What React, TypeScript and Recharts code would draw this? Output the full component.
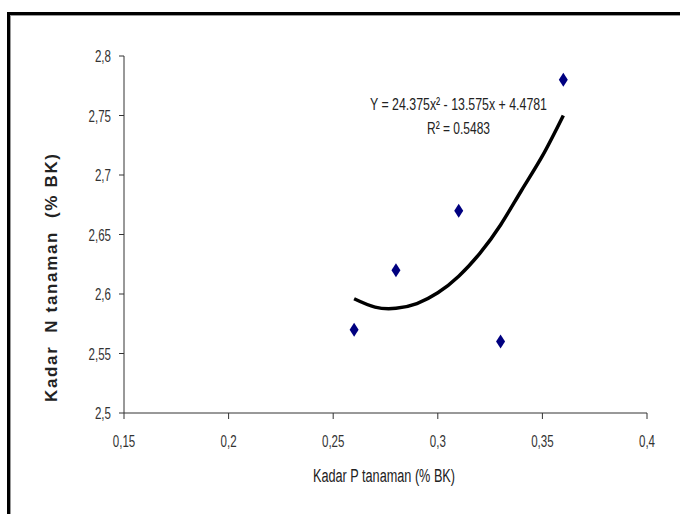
import { ComposedChart, Scatter, Line, XAxis, YAxis } from 'recharts'

// observed points: Kadar P (x) vs Kadar N (y)
const kadarP = [0.26, 0.28, 0.31, 0.33, 0.36]
const kadarN = [2.57, 2.62, 2.67, 2.56, 2.78]

// polynomial trend curve
const trendP = [0.26, 0.27, 0.28, 0.29, 0.30, 0.31, 0.32, 0.33, 0.34, 0.35, 0.36]
const trendN = [2.596, 2.589, 2.588, 2.592, 2.601, 2.615, 2.634, 2.658, 2.687, 2.716, 2.750]

const xTicks = [0.15, 0.2, 0.25, 0.3, 0.35, 0.4]
const yTicks = [2.5, 2.55, 2.6, 2.65, 2.7, 2.75, 2.8]

const points = kadarP.map((x, i) => ({ x, y: kadarN[i] }))
const trend = trendP.map((x, i) => ({ x, y: trendN[i] }))

const FONT = 'Arial, "Liberation Sans", sans-serif'
const comma = (v: number) => String(v).replace('.', ',')

// excel-ish condensed labels: squeeze the glyphs horizontally
const XTick = (props: any) => {
  const { x, y, payload } = props
  return (
    <text transform={`translate(${x},${y + 20}) scale(0.68,1)`} textAnchor="middle"
      fontSize={17} fill="#333" fontFamily={FONT}>
      {comma(payload.value)}
    </text>
  )
}

const YTick = (props: any) => {
  const { x, y, payload } = props
  return (
    <text transform={`translate(${x},${y + 6}) scale(0.68,1)`} textAnchor="end"
      fontSize={17} fill="#333" fontFamily={FONT}>
      {comma(payload.value)}
    </text>
  )
}

const Diamond = (props: any) => {
  const { cx, cy } = props
  if (cx == null || cy == null) return null
  return (
    <polygon
      points={`${cx},${cy - 7} ${cx + 4.5},${cy} ${cx},${cy + 7} ${cx - 4.5},${cy}`}
      fill="#000080"
    />
  )
}

export default function App() {
  document.body.style.margin = '0'

  return (
    <div style={{ position: 'relative', width: 680, height: 514, overflow: 'hidden', background: '#fff' }}>
      <div
        style={{
          position: 'absolute', left: 7, top: 12, width: 700, height: 600,
          border: '3px solid #000', boxShadow: 'inset 1px 1px 0 #999',
        }}
      />
      <div style={{ position: 'absolute', left: 0, top: 0 }}>
        <ComposedChart width={680} height={514} margin={{ top: 56, right: 33, bottom: 71, left: 64 }}>
          <XAxis
            type="number" dataKey="x" domain={[0.15, 0.4]} ticks={xTicks}
            tick={<XTick />} tickSize={6} tickMargin={8}
            stroke="#333" height={30} allowDataOverflow
          />
          <YAxis
            type="number" dataKey="y" domain={[2.5, 2.8]} ticks={yTicks}
            tick={<YTick />} tickSize={5} tickMargin={8}
            stroke="#333" width={60} allowDataOverflow
          />
          <Line
            data={trend} dataKey="y" type="natural" stroke="#000" strokeWidth={3.5}
            dot={false} activeDot={false} isAnimationActive={false}
          />
          <Scatter data={points} dataKey="y" shape={<Diamond />} isAnimationActive={false} />
        </ComposedChart>
      </div>
      <svg width={680} height={514} style={{ position: 'absolute', left: 0, top: 0, pointerEvents: 'none' }}>
        <text
          x={313} y={482} fontSize={18} fill="#222" fontFamily={FONT}
          textLength={142} lengthAdjust="spacingAndGlyphs"
        >
          Kadar P tanaman (% BK)
        </text>
        <text
          transform="translate(57, 402) rotate(-90)" fontSize={17}
          fontWeight="bold" fill="#222" fontFamily={FONT}
          textLength={248} lengthAdjust="spacing" style={{ whiteSpace: 'pre' }}
        >
          {'Kadar  N tanaman  (% BK)'}
        </text>
        <text x={370} y={110} fontSize={17} fill="#222" fontFamily={FONT}
          textLength={177} lengthAdjust="spacingAndGlyphs">
          Y = 24.375x² - 13.575x + 4.4781
        </text>
        <text x={427} y={134} fontSize={17} fill="#222" fontFamily={FONT}
          textLength={63} lengthAdjust="spacingAndGlyphs">
          R² = 0.5483
        </text>
      </svg>
    </div>
  )
}
